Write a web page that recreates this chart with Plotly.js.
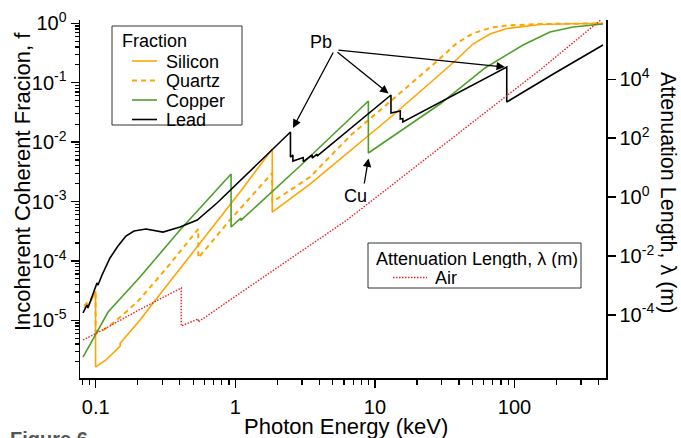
<!DOCTYPE html>
<html><head><meta charset="utf-8">
<script src="https://cdn.plot.ly/plotly-3.0.1.min.js"></script>
<style>html,body{margin:0;padding:0;background:#fff}#chart{width:681px;height:438px}</style>
</head><body><div id="chart"></div>
<script>
// ---- data (photon energy in keV) ----
const siliconE = [0.0824, 0.0910, 0.0998, 0.0998, 0.1185, 0.1497, 0.1497, 0.2077, 0.2449, 0.5586, 1.081, 1.839, 1.839, 3.429, 6.631, 13.26, 24.81, 37.49, 50.4, 66.8, 88.0, 152.3, 262.5, 430.5];
const siliconF = [1.61e-5, 1.95e-5, 3.11e-5, 1.64e-6, 2.15e-6, 3.69e-6, 4.1e-6, 1.01e-5, 1.67e-5, 2.0e-4, 1.445e-3, 7.65e-3, 6.65e-4, 1.97e-3, 7.08e-3, 0.0275, 0.0989, 0.232, 0.448, 0.661, 0.818, 0.955, 0.98, 0.995];

const quartzE = [0.0824, 0.0910, 0.0998, 0.0998, 0.1110, 0.1330, 0.1648, 0.2077, 0.3405, 0.543, 0.543, 0.9163, 1.839, 1.839, 3.429, 6.631, 13.26, 26.95, 38.7, 50.4, 66.8, 88.0, 152.3, 430.5];
const quartzF = [1.74e-5, 2.2e-5, 2.88e-5, 6.6e-6, 6.6e-6, 9.0e-6, 1.38e-5, 2.28e-5, 8.87e-5, 3.44e-4, 1.12e-4, 4.89e-4, 3.02e-3, 9.8e-4, 2.58e-3, 0.01267, 0.0512, 0.215, 0.466, 0.674, 0.834, 0.918, 0.973, 0.995];

const copperE = [0.0811, 0.1227, 0.2077, 0.4016, 0.9327, 0.9327, 1.0961, 1.0961, 2.908, 8.979, 8.979, 29.27, 61.5, 115.1, 179.6, 262.5, 430.5];
const copperF = [2.41e-6, 1.38e-5, 5.36e-5, 3.31e-4, 2.9e-3, 3.72e-4, 5.27e-4, 4.8e-4, 3.96e-3, 0.0492, 6.55e-3, 0.0438, 0.177, 0.431, 0.714, 0.866, 0.973];

const leadE = [0.0811, 0.0866, 0.0880, 0.1021, 0.1039, 0.1110, 0.1266, 0.1444, 0.1648, 0.188, 0.229, 0.3034, 0.4016, 0.5335, 0.7396, 1.274, 2.484, 2.484, 2.586, 2.586, 3.066, 3.066, 3.554, 3.554, 3.851, 3.851, 6.631, 13.035, 13.035, 15.2, 15.2, 15.86, 15.86, 34.51, 88.0, 88.0, 195, 430.5];
const leadF = [1.33e-5, 1.81e-5, 1.61e-5, 4.25e-5, 3.93e-5, 5.79e-5, 1.12e-4, 1.78e-4, 2.62e-4, 3.19e-4, 3.44e-4, 3.06e-4, 3.72e-4, 4.88e-4, 9.44e-4, 3.21e-3, 0.01479, 5.61e-3, 6.07e-3, 4.8e-3, 5.5e-3, 4.71e-3, 6.07e-3, 5.4e-3, 6.3e-3, 5.83e-3, 0.01663, 0.0621, 0.0309, 0.0334, 0.0245, 0.0249, 0.0218, 0.0574, 0.1837, 0.0473, 0.1457, 0.431];

// attenuation length of air (m), right axis
const airE = [0.0811, 0.102, 0.204, 0.41, 0.41, 0.543, 0.543, 0.916, 6.31, 48.0, 152, 430.5];
const airL = [1.41e-5, 2.43e-5, 1.47e-4, 8.19e-4, 4.2e-5, 7.26e-5, 5.74e-5, 3.2e-4, 0.167, 301, 2.07e4, 1.2e6];

const xTickVals = [0.1, 1, 10, 100];
const xTickText = ['0.1', '1', '10', '100'];
const yTickVals = [1e-5, 1e-4, 1e-3, 1e-2, 1e-1, 1];
const yTickText = ['10<sup>-5</sup>', '10<sup>-4</sup>', '10<sup>-3</sup>', '10<sup>-2</sup>', '10<sup>-1</sup>', '10<sup>0</sup>'];
const y2TickVals = [1e-4, 1e-2, 1, 1e2, 1e4];
const y2TickText = ['10<sup>-4</sup>', '10<sup>-2</sup>', '10<sup>0</sup>', '10<sup>2</sup>', '10<sup>4</sup>'];

// ---- styling ----
const ORANGE = '#FFA500', GREEN = '#4E9F2A', BLACK = '#000000', RED = '#E8202A';
const FONT = 'Liberation Sans, Arial, Helvetica, sans-serif';
const W = 681, H = 438, ML = 80, MR = 75, MT = 20, MB = 60;
const PW = W - ML - MR, PH = H - MT - MB;
const px = v => (v - ML) / PW;
const py = v => (H - MB - v) / PH;

const xMinor = [];
for (let d = 0.01; d <= 100; d *= 10) for (let k = 2; k <= 9; k++) { const v = k * d; if (v > 0.077 && v < 452) xMinor.push(v); }
const yMinor = [];
for (let d = 1e-6; d <= 0.1; d *= 10) for (let k = 2; k <= 9; k++) yMinor.push(k * d);

const traces = [
  {x: siliconE, y: siliconF, mode: 'lines', line: {color: ORANGE, width: 1.6}, name: 'Silicon'},
  {x: quartzE, y: quartzF, mode: 'lines', line: {color: ORANGE, width: 2, dash: '5px,4px'}, name: 'Quartz'},
  {x: copperE, y: copperF, mode: 'lines', line: {color: GREEN, width: 1.6}, name: 'Copper'},
  {x: leadE, y: leadF, mode: 'lines', line: {color: BLACK, width: 1.6}, name: 'Lead'},
  {x: airE, y: airL, yaxis: 'y2', mode: 'lines', line: {color: RED, width: 1.4, dash: '1.5px,1.5px'}, name: 'Air'}
];

const axisCommon = {
  type: 'log', showline: true, linecolor: '#000', linewidth: 1.5, mirror: false,
  ticks: 'outside', ticklen: 8, tickwidth: 1.5, tickcolor: '#000', tickmode: 'array',
  tickfont: {family: FONT, size: 20, color: '#000'}, showgrid: false, zeroline: false, fixedrange: true
};

const shapes = [
  {type: 'rect', xref: 'paper', yref: 'paper', x0: px(112), x1: px(242), y0: py(125), y1: py(26), line: {color: '#333', width: 1}, fillcolor: '#fff'},
  {type: 'rect', xref: 'paper', yref: 'paper', x0: px(368), x1: px(581), y0: py(288), y1: py(243), line: {color: '#333', width: 1}, fillcolor: '#fff'},
  {type: 'line', xref: 'paper', yref: 'paper', x0: px(132), x1: px(157), y0: py(61), y1: py(61), line: {color: ORANGE, width: 1.6}},
  {type: 'line', xref: 'paper', yref: 'paper', x0: px(132), x1: px(157), y0: py(80.5), y1: py(80.5), line: {color: ORANGE, width: 2, dash: '5px,4px'}},
  {type: 'line', xref: 'paper', yref: 'paper', x0: px(132), x1: px(157), y0: py(100), y1: py(100), line: {color: GREEN, width: 1.6}},
  {type: 'line', xref: 'paper', yref: 'paper', x0: px(132), x1: px(157), y0: py(119.5), y1: py(119.5), line: {color: BLACK, width: 1.6}},
  {type: 'line', xref: 'paper', yref: 'paper', x0: px(393), x1: px(427), y0: py(277.5), y1: py(277.5), line: {color: RED, width: 1.4, dash: '1.5px,1.5px'}}
];

const txt = (text, x, y, extra) => Object.assign({text: text, xref: 'paper', yref: 'paper', x: px(x), y: py(y), showarrow: false, xanchor: 'left', yanchor: 'middle', font: {family: FONT, size: 18, color: '#000'}}, extra || {});
const leg = (text, x, y) => txt(text, x, y, {height: 19, borderpad: 0});
const arrow = (hx, hy, tx, ty) => ({text: '', xref: 'paper', yref: 'paper', x: px(hx), y: py(hy), ax: tx - hx, ay: ty - hy, showarrow: true, arrowhead: 2, arrowsize: 1.3, arrowwidth: 1.3, arrowcolor: '#000'});

const annotations = [
  leg('Fraction', 121, 40),
  leg('Silicon', 165, 61),
  leg('Quartz', 165, 80.5),
  leg('Copper', 165, 100),
  leg('Lead', 165, 119.5),
  leg('Attenuation Length, \u03bb (m)', 375, 258),
  leg('Air', 434, 277.5),
  txt('Pb', 321, 42, {xanchor: 'center'}),
  txt('Cu', 355, 196, {xanchor: 'center'}),
  arrow(293, 128, 334, 51),
  arrow(388.5, 93.5, 336, 51),
  arrow(505, 67, 337, 50),
  arrow(368.5, 158.5, 364, 185),
  txt('Incoherent Coherent Fracion, f', 22, 182, {xanchor: 'center', textangle: -90, font: {family: FONT, size: 22, color: '#000'}}),
  txt('Attenuation Length, \u03bb (m)', 668, 192, {xanchor: 'center', textangle: 90, font: {family: FONT, size: 21.5, color: '#000'}}),
  txt('Photon Energy (keV)', 346, 427, {xanchor: 'center', font: {family: FONT, size: 22, color: '#000'}}),
  txt('<b>Figure 6</b>', 8, 426, {yanchor: 'top', font: {family: FONT, size: 20, color: '#555'}})
];

const layout = {
  width: W, height: H,
  margin: {l: ML, r: MR, t: MT, b: MB, pad: 0},
  paper_bgcolor: '#fff', plot_bgcolor: '#fff',
  showlegend: false,
  font: {family: FONT, color: '#000'},
  xaxis: Object.assign({}, axisCommon, {
    range: [-1.1125, 2.6555], tickvals: xTickVals, ticktext: xTickText, ticklabelstandoff: 2,
    minor: {tickmode: 'array', tickvals: xMinor, ticks: 'outside', ticklen: 5, tickwidth: 1.2, tickcolor: '#000', showgrid: false}
  }),
  yaxis: Object.assign({}, axisCommon, {
    range: [-5.971, 0.0556], tickvals: yTickVals, ticktext: yTickText,
    minor: {tickmode: 'array', tickvals: yMinor, ticks: 'outside', ticklen: 4, tickwidth: 1.2, tickcolor: '#000', showgrid: false}
  }),
  yaxis2: Object.assign({}, axisCommon, {
    overlaying: 'y', side: 'right', range: [-6.143, 6.014], tickvals: y2TickVals, ticktext: y2TickText
  }),
  shapes: shapes,
  annotations: annotations
};

Plotly.newPlot('chart', traces, layout, {staticPlot: true, displayModeBar: false});
</script>
</body></html>
